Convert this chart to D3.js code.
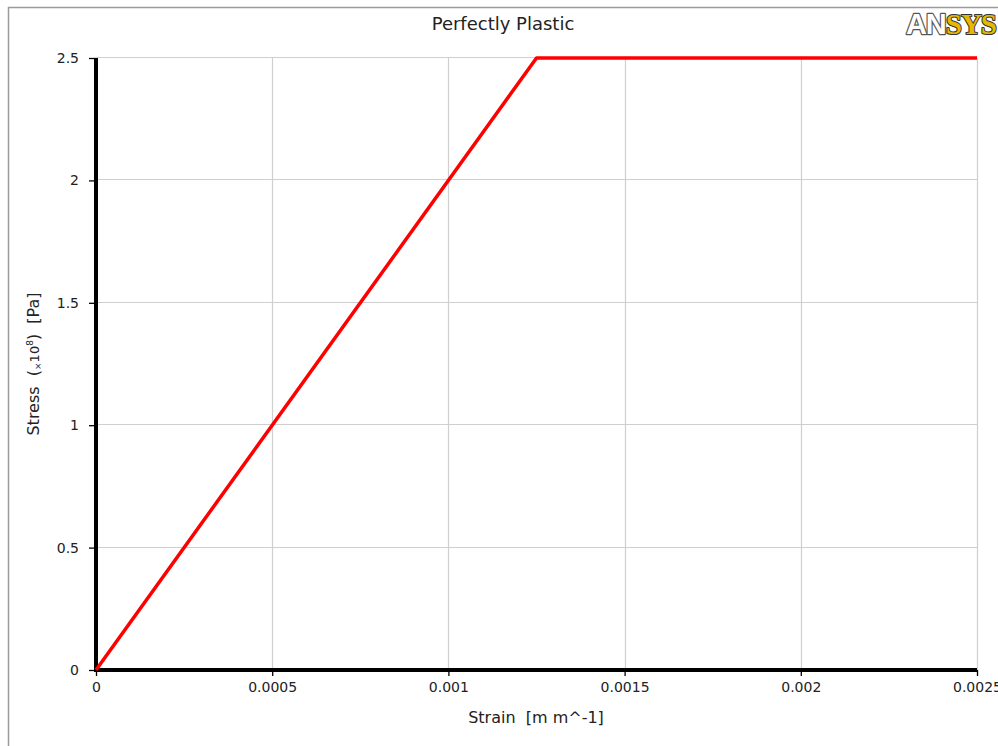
<!DOCTYPE html>
<html>
<head>
<meta charset="utf-8">
<script src="https://cdn.jsdelivr.net/npm/d3@7"></script>
<style>
  body { margin: 0; background: #fff; }
  svg { display: block; font-family: "DejaVu Sans", sans-serif; }
</style>
</head>
<body>
<svg id="chart" width="998" height="746"></svg>
<script>
'use strict'

// strain [m m^-1] vs stress [x10^8 Pa]
const strain = [0, 0.00125, 0.0025]
const stress = [0, 2.5, 2.5]
const xTicks = [0, 0.0005, 0.001, 0.0015, 0.002, 0.0025]
const yTicks = [0, 0.5, 1, 1.5, 2, 2.5]
const xTickLabels = ['0', '0.0005', '0.001', '0.0015', '0.002', '0.0025']
const yTickLabels = ['0', '0.5', '1', '1.5', '2', '2.5']

const svg = d3.select('#chart')
const plot = { left: 96, right: 977, top: 58, bottom: 670 }

const x = d3.scaleLinear().domain([0, 0.0025]).range([plot.left, plot.right])
const y = d3.scaleLinear().domain([0, 2.5]).range([plot.bottom, plot.top])

// outer frame (top and left edges are visible)
svg.append('path')
  .attr('d', 'M8.5,746 L8.5,7.5 L998,7.5')
  .attr('fill', 'none')
  .attr('stroke', '#9a9a9a')
  .attr('stroke-width', 1.5)

// grid
svg.append('g')
  .selectAll('line')
  .data(xTicks.slice(1))
  .join('line')
  .attr('x1', d => Math.round(x(d)) + 0.5)
  .attr('x2', d => Math.round(x(d)) + 0.5)
  .attr('y1', plot.top)
  .attr('y2', plot.bottom)
  .attr('stroke', '#cfcfcf')
  .attr('stroke-width', 1.2)

svg.append('g')
  .selectAll('line')
  .data(yTicks.slice(1))
  .join('line')
  .attr('x1', plot.left)
  .attr('x2', plot.right)
  .attr('y1', d => Math.round(y(d)) - 0.5)
  .attr('y2', d => Math.round(y(d)) - 0.5)
  .attr('stroke', '#cfcfcf')
  .attr('stroke-width', 1.2)

// axes
const xAxis = d3.axisBottom(x)
  .tickValues(xTicks)
  .tickFormat((d, i) => xTickLabels[i])
  .tickSize(6)
  .tickPadding(6)

const yAxis = d3.axisLeft(y)
  .tickValues(yTicks)
  .tickFormat((d, i) => yTickLabels[i])
  .tickSize(7)
  .tickPadding(10)

const gx = svg.append('g')
  .attr('transform', `translate(0,${plot.bottom})`)
  .call(xAxis)
gx.select('.domain').remove()

const gy = svg.append('g')
  .attr('transform', `translate(${plot.left},0)`)
  .call(yAxis)
gy.select('.domain').remove()

svg.selectAll('.tick text')
  .attr('font-size', 14)
  .attr('fill', '#222')
  .attr('font-family', '"DejaVu Sans", sans-serif')
svg.selectAll('.tick line').attr('stroke', '#000').attr('stroke-width', 1.3)

// thick black axis lines
svg.append('line')
  .attr('x1', plot.left).attr('x2', plot.left)
  .attr('y1', plot.top).attr('y2', plot.bottom + 2)
  .attr('stroke', '#000').attr('stroke-width', 4)
svg.append('line')
  .attr('x1', plot.left - 2).attr('x2', plot.right)
  .attr('y1', plot.bottom).attr('y2', plot.bottom)
  .attr('stroke', '#000').attr('stroke-width', 4)

// data line
const line = d3.line()
  .x((d, i) => x(strain[i]))
  .y(d => y(d))

svg.append('path')
  .datum(stress)
  .attr('d', line)
  .attr('fill', 'none')
  .attr('stroke', '#ff0000')
  .attr('stroke-width', 3.5)
  .attr('stroke-linejoin', 'round')

// title
svg.append('text')
  .attr('x', 503)
  .attr('y', 30)
  .attr('text-anchor', 'middle')
  .attr('font-size', 18)
  .attr('fill', '#222')
  .text('Perfectly Plastic')

// axis labels
svg.append('text')
  .attr('x', 536)
  .attr('y', 723)
  .attr('text-anchor', 'middle')
  .attr('font-size', 16)
  .attr('fill', '#222')
  .attr('xml:space', 'preserve')
  .text('Strain  [m m^-1]')

const yLabel = svg.append('text')
  .attr('transform', 'translate(39,364) rotate(-90)')
  .attr('text-anchor', 'middle')
  .attr('font-size', 16)
  .attr('fill', '#222')
  .attr('xml:space', 'preserve')
yLabel.append('tspan').text('Stress  (')
yLabel.append('tspan').attr('font-size', 9).attr('dy', 2).text('×')
yLabel.append('tspan').attr('font-size', 13).attr('dy', -2).text('10')
yLabel.append('tspan').attr('font-size', 9).attr('dy', -6).text('8')
yLabel.append('tspan').attr('dy', 6).text(')  [Pa]')

// ANSYS logo
const logo = svg.append('text')
  .attr('x', 996)
  .attr('y', 34)
  .attr('text-anchor', 'end')
  .attr('font-size', 29)
  .attr('font-weight', 'bold')
  .attr('font-family', '"Liberation Serif", serif')
  .attr('letter-spacing', -1)
  .attr('paint-order', 'stroke')
  .attr('stroke-linejoin', 'round')
logo.append('tspan')
  .attr('font-family', '"Liberation Sans", sans-serif')
  .attr('fill', '#ffffff')
  .attr('stroke', '#555')
  .attr('stroke-width', 2.4)
  .text('AN')
logo.append('tspan')
  .attr('fill', '#e8b800')
  .attr('stroke', '#333')
  .attr('stroke-width', 2)
  .text('SYS')
</script>
</body>
</html>
